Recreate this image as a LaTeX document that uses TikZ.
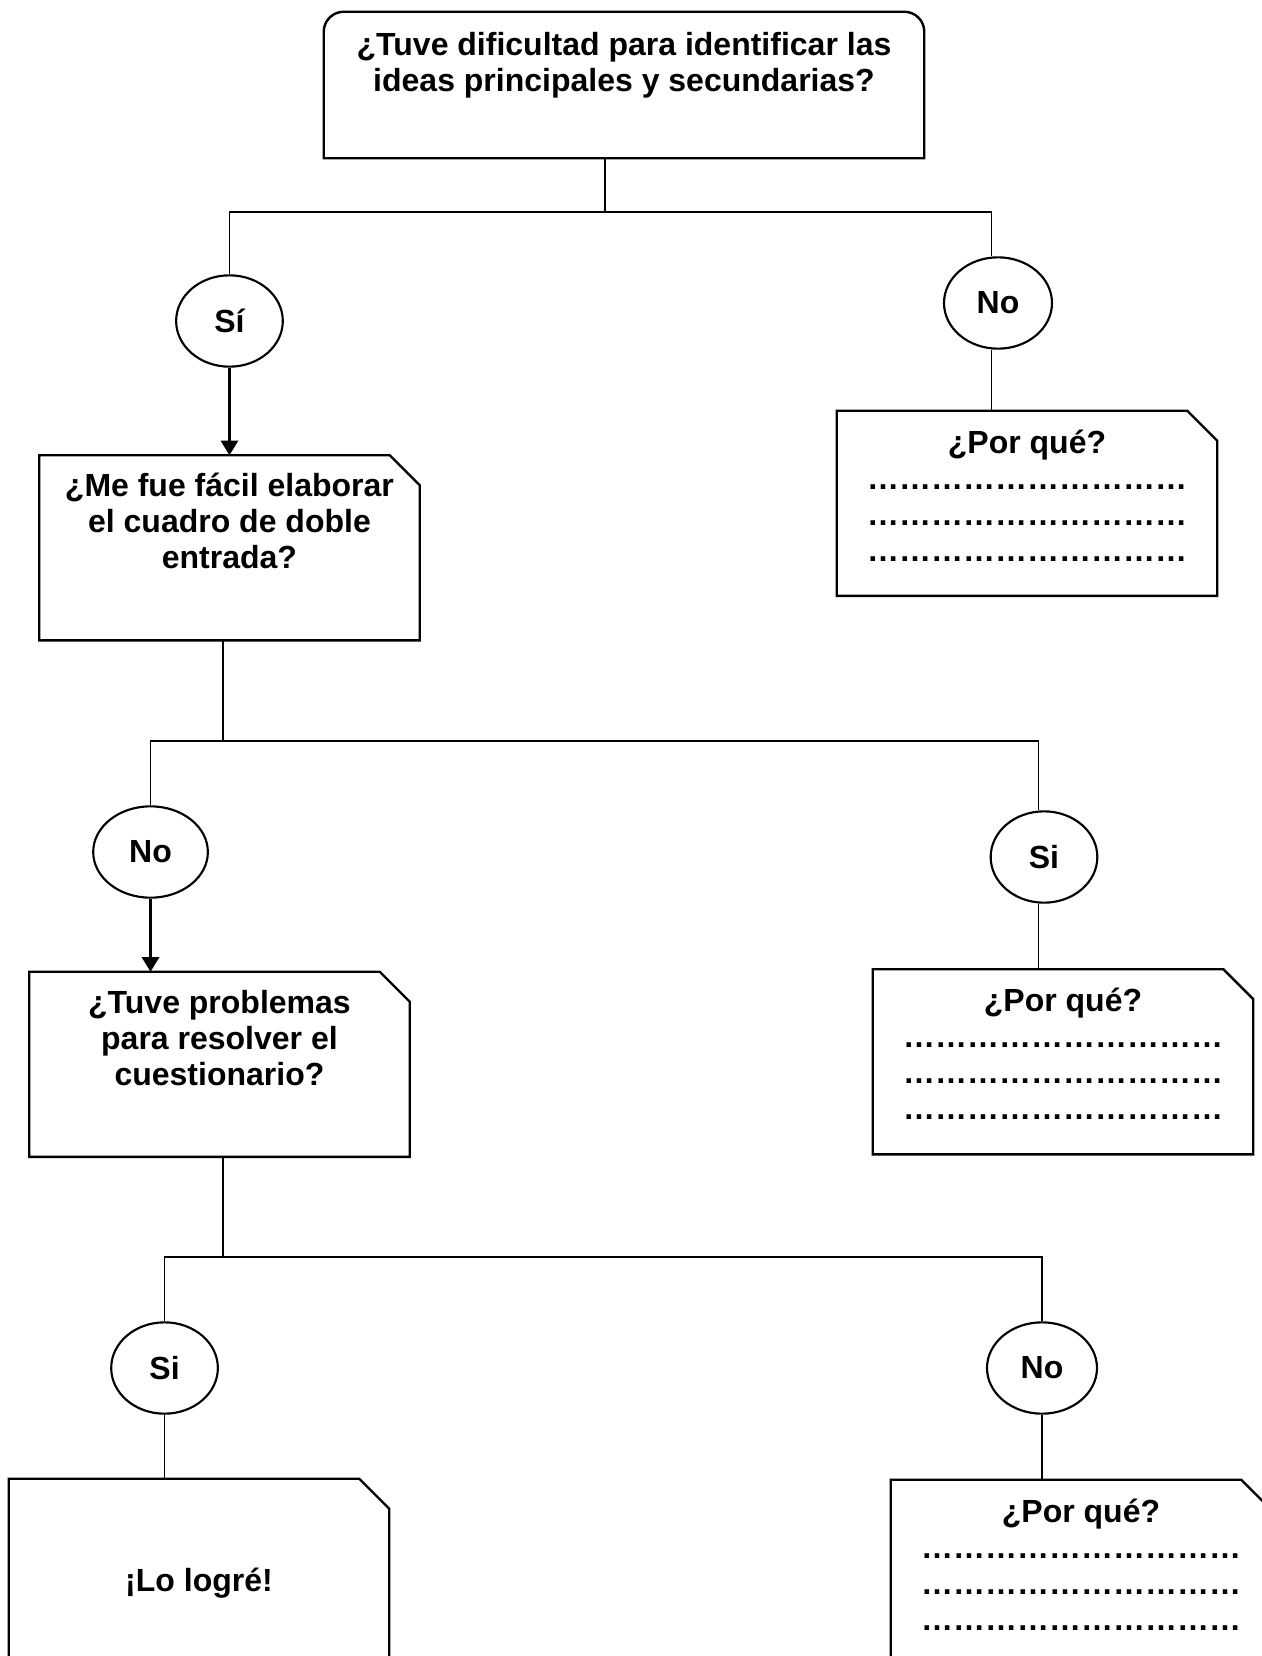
\documentclass[tikz,border=0pt]{standalone}
\usepackage{fontspec}
\setmainfont{Liberation Sans}
\usetikzlibrary{arrows.meta,positioning,shapes.geometric}
\newcommand{\dotrow}{\foreach \k in {1,...,10}{…}}

\begin{document}
\begin{tikzpicture}[
    x=1pt, y=-1pt,
    txt/.style={font=\bfseries\fontsize{24pt}{27pt}\selectfont, align=center, inner sep=4pt},
    topbox/.style={txt, rectangle, minimum width=450pt, minimum height=109.5pt,
        append after command={\pgfextra{\draw[line width=1.8pt] (\tikzlastnode.south west)
            [rounded corners=15pt] -- (\tikzlastnode.north west) -- (\tikzlastnode.north east)
            [sharp corners] -- (\tikzlastnode.south east) -- cycle;}}},
    foldbox/.style={txt, rectangle, minimum width=285pt, minimum height=138.5pt,
        append after command={\pgfextra{\draw[line width=1.8pt] (\tikzlastnode.south west)
            -- (\tikzlastnode.north west) -- ([xshift=-22.5pt]\tikzlastnode.north east)
            -- ([yshift=-22.5pt]\tikzlastnode.north east) -- (\tikzlastnode.south east) -- cycle;}}},
    answer/.style={txt, ellipse, draw, line width=1.6pt, minimum width=80pt, minimum height=68.5pt, inner sep=0pt},
    link/.style={line width=0.8pt},
    arrow/.style={-{Triangle[length=11pt, width=13pt]}, line width=1.7pt}
]
    \useasboundingbox (0,0) rectangle (945.75,1242);

    % Pregunta inicial
    \node[topbox] (q1) at (468,63.75) {¿Tuve dificultad para identificar las\\ideas principales y secundarias?\rule[-35pt]{0pt}{0pt}};

    % Primer nivel
    \node[answer] (si1) at (172.1,240.75) {Sí};
    \node[answer, minimum width=81pt] (no1) at (748.5,227.25) {No};
    \node[foldbox, below=65.6pt of si1] (q2) {¿Me fue fácil elaborar\\el cuadro de doble\\entrada?\rule[-40pt]{0pt}{0pt}};
    \node[foldbox, below=45.75pt of no1, xshift=21.75pt] (why1) {¿Por qué?\\\dotrow\\\dotrow\\\dotrow\rule[-12pt]{0pt}{0pt}};

    \coordinate (fork1) at (453.75,159);
    \draw[link] (q1.south -| fork1) -- (fork1);
    \draw[link] (si1.north) |- (fork1) -| ([xshift=-5pt]no1.north);
    \draw[arrow] (si1.south) -- (si1.south |- q2.north);
    \draw[link] ([xshift=-5pt]no1.south) -- ([xshift=-5pt]no1.south |- why1.north);

    % Segundo nivel
    \node[answer, minimum width=86pt] (no2) at (112.9,639) {No};
    \node[answer] (si2) at (783,642.75) {Si};
    \node[foldbox, below=54.75pt of no2, xshift=51.7pt] (q3) {¿Tuve problemas\\para resolver el\\cuestionario?\rule[-40pt]{0pt}{0pt}};
    \node[foldbox, below=49.1pt of si2, xshift=14.25pt] (why2) {¿Por qué?\\\dotrow\\\dotrow\\\dotrow\rule[-12pt]{0pt}{0pt}};

    \coordinate (fork2) at (167.25,555.75);
    \draw[link] (q2.south -| fork2) -- (fork2);
    \draw[link] (no2.north) |- (fork2) -| ([xshift=-4pt]si2.north);
    \draw[arrow] (no2.south) -- (no2.south |- q3.north);
    \draw[link] ([xshift=-4pt]si2.south) -- ([xshift=-4pt]si2.south |- why2.north);

    % Tercer nivel
    \node[answer] (si3) at (123.4,1026) {Si};
    \node[answer, minimum width=82.5pt] (no3) at (781.5,1026) {No};
    \node[foldbox, below=48pt of si3, xshift=25.85pt] (done) {\rule{0pt}{35pt}¡Lo logré!};
    \node[foldbox, below=48.75pt of no3, xshift=29.25pt] (why3) {¿Por qué?\\\dotrow\\\dotrow\\\dotrow\rule[-12pt]{0pt}{0pt}};

    \coordinate (fork3) at (167.25,942.75);
    \draw[link] (q3.south -| fork3) -- (fork3);
    \draw[link] (si3.north) |- (fork3) -| (no3.north);
    \draw[link] (si3.south) -- (si3.south |- done.north);
    \draw[link] (no3.south) -- (no3.south |- why3.north);
\end{tikzpicture}
\end{document}
